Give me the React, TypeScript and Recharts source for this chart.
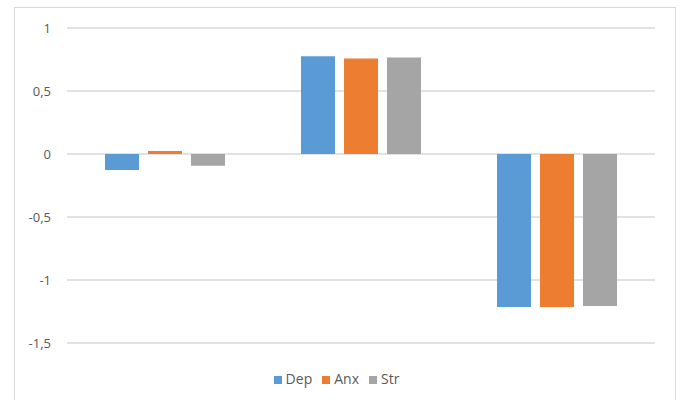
import { BarChart, Bar, XAxis, YAxis, CartesianGrid, Legend } from "recharts"

const CATEGORIES = ["1", "2", "3"]
const DEP = [-0.127, 0.775, -1.215]
const ANX = [0.024, 0.757, -1.215]
const STR = [-0.093, 0.765, -1.207]
const Y_TICKS = [-1.5, -1, -0.5, 0, 0.5, 1]

const SERIES = [
  { key: "Dep", color: "#5B9BD5" },
  { key: "Anx", color: "#ED7D31" },
  { key: "Str", color: "#A5A5A5" },
]

const FONT = '"Open Sans", "Liberation Sans", sans-serif'

const data = CATEGORIES.map((c, i) => ({ name: c, Dep: DEP[i], Anx: ANX[i], Str: STR[i] }))

export default function App() {
  return (
    <div style={{ position: "absolute", left: 0, top: 0, width: 683, height: 400, background: "#fff", overflow: "hidden", fontFamily: FONT }}>
      <div
        style={{
          position: "absolute",
          left: 14,
          top: 7,
          width: 660,
          height: 420,
          border: "1px solid #d9d9d9",
        }}
      />
      <BarChart
        width={683}
        height={400}
        data={data}
        margin={{ top: 28, right: 28, bottom: 57, left: 0 }}
        barCategoryGap={38}
        barGap={9}
      >
        <CartesianGrid vertical={false} stroke="#d9d9d9" strokeWidth={1.3} />
        <XAxis dataKey="name" hide />
        <YAxis
          domain={[-1.5, 1]}
          ticks={Y_TICKS}
          width={67}
          axisLine={false}
          tickLine={false}
          tickSize={0}
          tickMargin={16}
          tick={{ fill: "#595959", fontSize: 13, fontFamily: FONT }}
          tickFormatter={(v: number) => String(v).replace(".", ",")}
        />
        <Legend
          layout="horizontal"
          verticalAlign="middle"
          align="center"
          iconType="square"
          iconSize={8}
          itemSorter={(item: any) => SERIES.findIndex((s) => s.key === item.value)}
          wrapperStyle={{ top: 367, left: 0, width: 683 }}
          formatter={(value) => (
            <span style={{ color: "#595959", fontSize: 14, fontFamily: FONT }}>{value}</span>
          )}
        />
        {SERIES.map((s) => (
          <Bar key={s.key} dataKey={s.key} fill={s.color} isAnimationActive={false} />
        ))}
      </BarChart>
    </div>
  )
}
